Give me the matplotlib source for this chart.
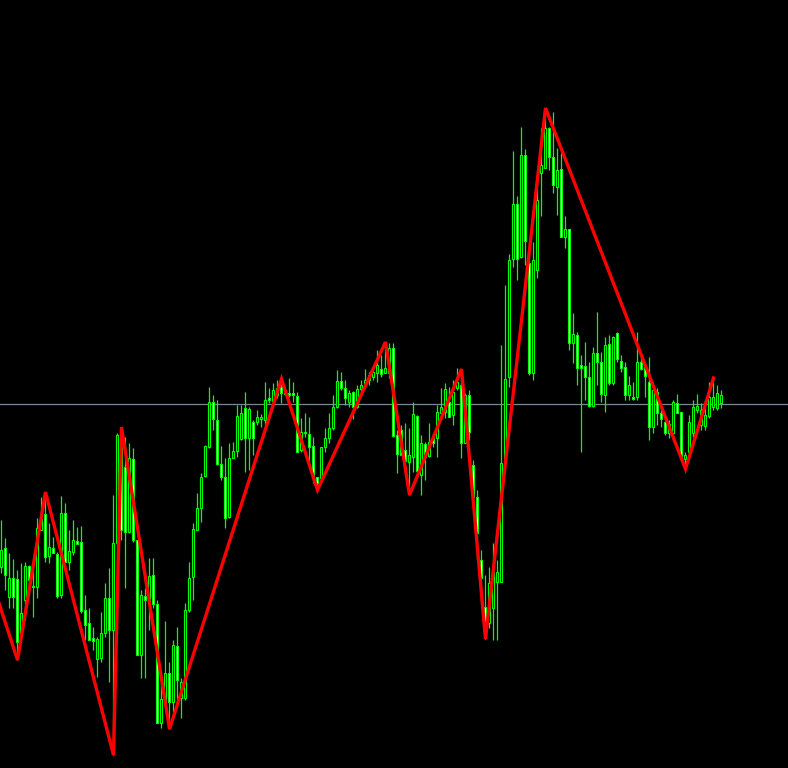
import matplotlib
matplotlib.use("Agg")
import matplotlib.pyplot as plt
import numpy as np

# Price values are given in chart units that grow downward (axis is inverted)
opens = [567,548,597,578,579,633,600,566,586,587,530,514,556,548,554,595,513,562,552,541,
         542,610,623,638,659,658,633,598,630,543,447,467,532,459,540,655,596,603,575,604,
         723,702,673,702,646,698,698,610,577,530,508,476,447,402,420,464,477,517,458,451,
         439,408,438,422,422,419,420,398,401,395,387,393,393,393,396,450,432,434,446,477,
         478,447,438,428,407,381,388,402,392,407,389,385,380,377,373,369,373,373,348,435,
         430,450,462,457,416,475,444,456,437,438,413,412,402,415,388,385,443,395,465,497,
         560,607,623,608,582,582,463,377,259,204,257,155,263,373,270,173,168,128,157,187,
         169,237,229,343,335,365,366,377,406,353,362,395,344,383,333,361,367,395,397,397,
         362,367,382,427,392,413,422,433,433,403,412,459,452,433,410,425,426,416,407,408,
         403]
highs = [520,538,553,559,570,563,562,565,570,518,497,492,523,537,552,496,503,530,520,527,
         526,595,608,627,637,612,583,568,495,433,427,437,443,448,540,590,588,558,558,600,
         683,621,662,640,627,678,603,562,523,493,473,445,387,395,400,446,458,443,442,405,
         405,392,407,420,410,414,382,388,383,380,379,390,378,382,392,418,413,417,437,477,
         447,428,413,395,370,372,380,390,391,385,380,369,372,367,350,355,342,343,343,430,
         425,423,428,402,415,435,442,423,433,405,388,383,387,380,368,369,393,390,460,490,
         550,575,567,543,560,345,285,254,151,196,127,149,255,242,183,128,108,127,112,148,
         153,216,229,313,332,355,342,362,347,312,352,337,335,336,332,355,362,376,382,332,
         357,362,357,390,388,408,415,420,400,394,412,452,415,400,394,403,400,382,378,385,
         390]
lows = [573,590,608,608,660,633,620,590,617,598,530,562,563,553,598,598,562,570,555,544,
        613,640,640,650,677,662,637,682,755,620,540,588,533,542,655,678,678,630,608,723,
        728,702,729,712,702,718,700,612,600,530,522,477,448,430,465,480,528,518,458,457,
        440,472,470,455,425,427,425,403,402,398,403,395,397,402,452,452,437,462,483,490,
        478,452,443,430,408,390,405,407,419,408,392,388,385,380,382,377,373,378,437,473,
        455,462,495,472,475,495,480,457,447,457,413,418,417,425,390,458,443,440,505,560,
        603,639,628,640,640,582,463,387,267,280,258,265,375,380,278,216,168,170,193,215,
        237,248,350,363,385,452,400,407,407,385,402,412,385,385,362,372,400,400,400,400,
        370,397,440,433,425,427,435,438,438,413,460,469,455,437,413,430,430,418,410,410,
        408]
closes = [550,575,578,597,642,613,566,580,587,528,519,557,547,553,596,513,562,551,540,544,
          611,625,640,641,639,633,598,630,543,435,530,532,458,540,655,595,600,576,604,723,
          699,673,702,645,680,682,610,578,529,508,477,446,402,419,464,477,518,458,451,416,
          413,438,409,438,417,417,400,400,390,388,393,394,395,395,452,432,433,447,478,483,
          447,438,428,407,381,388,398,393,407,389,385,380,375,372,365,374,368,348,436,454,
          455,461,455,414,471,443,457,442,443,412,407,389,417,392,382,443,395,432,497,533,
          578,623,583,572,572,463,379,260,204,259,155,241,373,260,200,165,128,157,185,170,
          237,229,343,334,368,368,377,406,353,362,394,345,383,337,359,368,395,385,399,362,
          369,376,427,390,413,419,433,424,402,413,458,455,422,407,406,410,415,397,397,393,
          395]

# ZigZag vertices: (bar index, value)
zz_index = [-3, 4, 11, 28, 30, 42, 70, 79, 96, 102, 115, 121, 136, 171, 178]
zz_value = [574, 660, 492, 755, 427, 729, 379, 490, 342, 495, 369, 639, 108, 469, 378]

bid_level = 404

fig = plt.figure(figsize=(7.88, 7.68), dpi=100, facecolor="black")
ax = fig.add_axes([0, 0, 1, 1])
ax.set_facecolor("black")

o = np.array(opens); h = np.array(highs); l = np.array(lows); c = np.array(closes)
idx = np.arange(len(o))
green = "#00ff00"

ax.axhline(bid_level, color="#778899", lw=0.9, zorder=1)

ax.vlines(idx, h, l, color=green, lw=0.9, zorder=2)
bull = c < o  # values grow downward: close above open on screen
top = np.minimum(o, c)
height = np.maximum(np.abs(o - c), 0.8)
ax.bar(idx[bull], height[bull], bottom=top[bull], width=0.5,
       color="black", edgecolor=green, linewidth=0.8, zorder=3)
ax.bar(idx[~bull], height[~bull], bottom=top[~bull], width=0.5,
       color="white", edgecolor=green, linewidth=0.8, zorder=3)

ax.plot(zz_index, zz_value, color="#ff0000", lw=2.4, zorder=5, solid_joinstyle="miter")

ax.set_xlim((0 - 1.5) / 4, (788 - 1.5) / 4)
ax.set_ylim(768, 0)
ax.axis("off")

fig.savefig("out.png", dpi=100, facecolor="black")
